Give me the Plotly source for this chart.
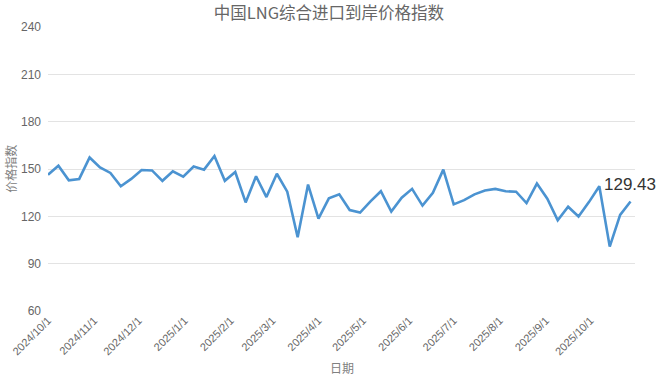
import plotly.graph_objects as go

dates = [
    "2024-10-01", "2024-10-08", "2024-10-15", "2024-10-22", "2024-10-29",
    "2024-11-05", "2024-11-12", "2024-11-19", "2024-11-26",
    "2024-12-03", "2024-12-10", "2024-12-17", "2024-12-24", "2024-12-31",
    "2025-01-07", "2025-01-14", "2025-01-21", "2025-01-28",
    "2025-02-04", "2025-02-11", "2025-02-18", "2025-02-25",
    "2025-03-04", "2025-03-11", "2025-03-18", "2025-03-25",
    "2025-04-01", "2025-04-08", "2025-04-15", "2025-04-22", "2025-04-29",
    "2025-05-06", "2025-05-13", "2025-05-20", "2025-05-27",
    "2025-06-03", "2025-06-10", "2025-06-17", "2025-06-24",
    "2025-07-01", "2025-07-08", "2025-07-15", "2025-07-22", "2025-07-29",
    "2025-08-05", "2025-08-12", "2025-08-19", "2025-08-26",
    "2025-09-02", "2025-09-09", "2025-09-16", "2025-09-23", "2025-09-30",
    "2025-10-07", "2025-10-14", "2025-10-21", "2025-10-28",
]

index_values = [
    146.4, 152.1, 142.8, 143.7, 157.3,
    151.0, 147.5, 139.1, 143.7,
    149.4, 149.1, 142.5, 148.5, 145.2,
    151.6, 149.6, 158.2, 142.5,
    148.1, 128.8, 145.4, 132.2,
    147.0, 135.6, 106.7, 140.1,
    118.6, 131.4, 133.9, 124.0, 122.4,
    129.5, 135.9, 123.0, 131.8,
    137.4, 126.8, 134.9, 149.6,
    127.6, 130.3, 133.9, 136.4, 137.4,
    135.9, 135.6, 128.4, 140.8,
    131.2, 117.5, 126.1, 119.9, 129.0,
    139.1, 100.8, 120.9, 129.43,
]

tick_vals = [
    "2024-10-01", "2024-11-01", "2024-12-01", "2025-01-01", "2025-02-01",
    "2025-03-01", "2025-04-01", "2025-05-01", "2025-06-01", "2025-07-01",
    "2025-08-01", "2025-09-01", "2025-10-01",
]
tick_text = [
    "2024/10/1", "2024/11/1", "2024/12/1", "2025/1/1", "2025/2/1",
    "2025/3/1", "2025/4/1", "2025/5/1", "2025/6/1", "2025/7/1",
    "2025/8/1", "2025/9/1", "2025/10/1",
]

y_ticks = [60, 90, 120, 150, 180, 210, 240]

title_text = "中国LNG综合进口到岸价格指数"
x_title = "日期"
y_title = "价格指数"

cjk = "Noto Sans CJK SC, Noto Sans, sans-serif"
latin = "Liberation Sans, Arial, sans-serif"

fig = go.Figure()
fig.add_trace(go.Scatter(
    x=dates, y=index_values, mode="lines",
    line=dict(color="#4b93d1", width=2.6),
    hoverinfo="x+y", showlegend=False,
))

fig.add_annotation(
    x=dates[-1], y=index_values[-1], xref="x", yref="y",
    text=f"{index_values[-1]:.2f}", showarrow=False,
    yshift=17, xshift=-1,
    font=dict(family=latin, size=17, color="#333333"),
)

fig.add_annotation(
    x=0.5, y=-0.2, xref="paper", yref="paper",
    text=x_title, showarrow=False, yanchor="middle", xanchor="center",
    font=dict(family=cjk, size=12, color="#808080"),
)
fig.add_annotation(
    x=-0.065, y=0.5, xref="paper", yref="paper",
    text=y_title, showarrow=False, textangle=-90,
    xanchor="center", yanchor="middle",
    font=dict(family=cjk, size=12, color="#808080"),
)

fig.update_layout(
    width=658, height=379,
    margin=dict(l=48, r=23, t=27, b=68, autoexpand=False),
    paper_bgcolor="white", plot_bgcolor="white",
    title=dict(
        text=title_text, x=0.5, xanchor="center",
        y=1 - 13 / 379, yanchor="middle", yref="container",
        automargin=False,
        font=dict(family=cjk, size=16.5, color="#666666"),
    ),
    xaxis=dict(
        type="date", automargin=False,
        range=["2024-10-01", "2025-10-31"],
        tickmode="array", tickvals=tick_vals, ticktext=tick_text,
        tickangle=-45, showgrid=False, zeroline=False, showline=False,
        ticks="", ticklen=0,
        tickfont=dict(family=latin, size=11, color="#666666"),
    ),
    yaxis=dict(
        range=[60, 240], tickmode="array", tickvals=y_ticks,
        automargin=False,
        showgrid=True, gridcolor="#e3e3e3", gridwidth=1,
        zeroline=False, showline=False, ticks="",
        tickfont=dict(family=latin, size=12, color="#666666"),
        ticklabelstandoff=6,
    ),
)

fig.write_html(
    "out.html",
    config={"displayModeBar": False},
    post_script="document.body.style.margin='0';document.body.style.overflow='hidden';",
)
